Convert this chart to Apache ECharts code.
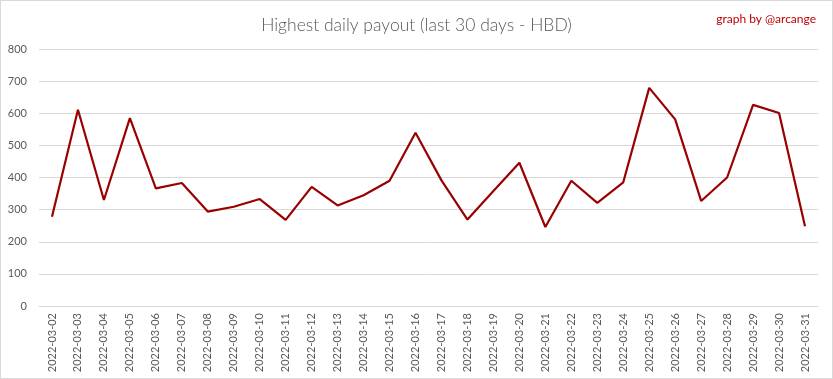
<!DOCTYPE html>
<html>
<head>
<meta charset="utf-8">
<script src="https://cdn.jsdelivr.net/npm/echarts@6/dist/echarts.min.js"></script>
<style>
html,body{margin:0;padding:0;background:#fff;}
#wrap{position:absolute;left:0;top:0;width:831px;height:377px;border:1px solid #d9d9d9;}
#chart{width:833px;height:379px;position:absolute;left:0;top:0;}
</style>
</head>
<body>
<div id="wrap"></div>
<div id="chart"></div>
<script>
const categories = ["2022-03-02","2022-03-03","2022-03-04","2022-03-05","2022-03-06","2022-03-07","2022-03-08","2022-03-09","2022-03-10","2022-03-11","2022-03-12","2022-03-13","2022-03-14","2022-03-15","2022-03-16","2022-03-17","2022-03-18","2022-03-19","2022-03-20","2022-03-21","2022-03-22","2022-03-23","2022-03-24","2022-03-25","2022-03-26","2022-03-27","2022-03-28","2022-03-29","2022-03-30","2022-03-31"];
const payouts = [278,611,330,585,366,383,294,309,333,268,371,313,345,390,539,391,269,358,446,246,390,321,385,679,581,327,400,626,601,248];
const yTicks = {min:0, max:800, interval:100};
const titleText = "Highest daily payout (last 30 days - HBD)";
const creditText = "graph by @arcange";

const chart = echarts.init(document.getElementById('chart'), null, {renderer:'canvas'});
chart.setOption({
  animation:false,
  backgroundColor:'transparent',
  title:[
    {text:titleText, left:'center', top:11,
     textStyle:{fontFamily:'Lato', fontWeight:300, fontSize:17.5, color:'#595959'}},
    {text:creditText, right:12, top:8,
     textStyle:{fontFamily:'Lato', fontWeight:'normal', fontSize:12, color:'#c00000'}}
  ],
  grid:{left:39, right:15, top:49, bottom:73, containLabel:false},
  xAxis:{
    type:'category', data:categories, boundaryGap:true,
    axisLine:{show:true, lineStyle:{color:'#d9d9d9', width:1}},
    axisTick:{show:false},
    axisLabel:{rotate:90, interval:0, fontFamily:'Lato', fontSize:11, color:'#595959', margin:7}
  },
  yAxis:{
    type:'value', min:yTicks.min, max:yTicks.max, interval:yTicks.interval,
    axisLine:{show:false}, axisTick:{show:false},
    splitLine:{lineStyle:{color:'#d9d9d9', width:1}},
    axisLabel:{fontFamily:'Lato', fontSize:11, color:'#595959', margin:12}
  },
  series:[{
    type:'line', data:payouts, symbol:'none',
    lineStyle:{color:'#990000', width:2.2},
    itemStyle:{color:'#990000'}
  }]
});
</script>
</body>
</html>
